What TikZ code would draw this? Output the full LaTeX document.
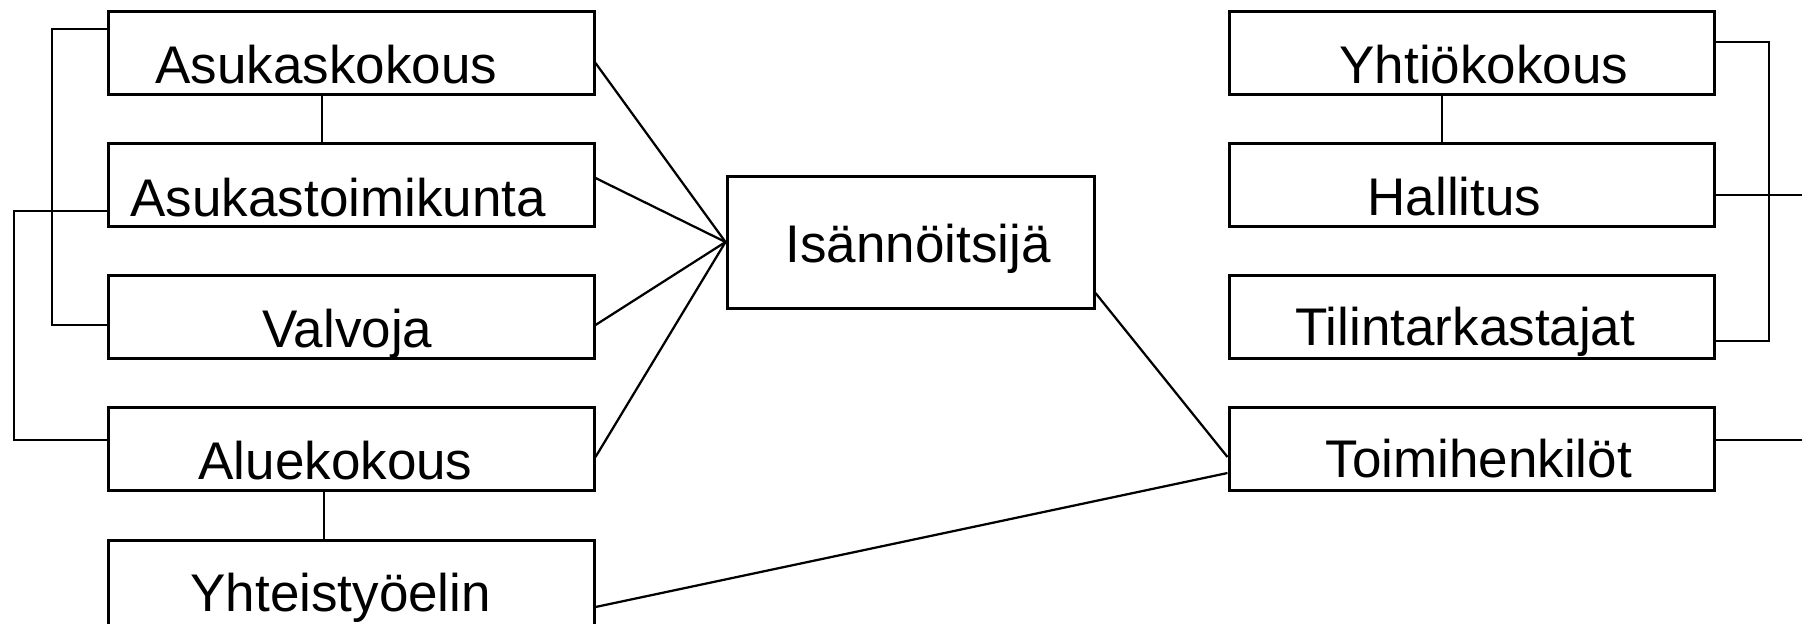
\documentclass[tikz,border=0pt]{standalone}
\usepackage{fontspec}
\setmainfont{Liberation Sans}
\begin{document}
\begin{tikzpicture}[x=0.4pt,y=-0.4pt,
  box/.style={draw,line width=1.2pt,minimum width=194pt,minimum height=33.1pt,inner sep=0pt},
  lbl/.style={anchor=base west,inner sep=0pt,font=\fontsize{21.2}{25}\selectfont},
  conn/.style={line width=0.9pt}]
\useasboundingbox (0,0) rectangle (1802,623);
% left column
\node[box] (ak) at (351.5,53) {};
\node[box] (at) at (351.5,185) {};
\node[box] (va) at (351.5,317) {};
\node[box] (al) at (351.5,449) {};
\node[box,minimum height=36pt] (ye) at (351.5,585) {};
\node[lbl] (tak) at (155,83) {Asukaskokous};
\node[lbl] (tat) at (130,216) {Asukastoimikunta};
\node[lbl] (tva) at (262,347) {Valvoja};
\node[lbl] (tal) at (198,479) {Aluekokous};
\node[lbl] (tye) at (190,611) {Yhteistyöelin};
% centre
\node[box,minimum width=146.8pt,minimum height=52.8pt] (is) at (910.5,242) {};
\node[lbl] (tis) at (785,262) {Isännöitsijä};
% right column
\node[box] (yk) at (1471.5,53) {};
\node[box] (ha) at (1471.5,185) {};
\node[box] (ti) at (1471.5,317) {};
\node[box] (to) at (1471.5,449) {};
\node[lbl] (tyk) at (1339,83) {Yhtiökokous};
\node[lbl] (tha) at (1367,215) {Hallitus};
\node[lbl] (tti) at (1295,345) {Tilintarkastajat};
\node[lbl] (tto) at (1325,477) {Toimihenkilöt};
\coordinate (e1) at (1802,195);
\coordinate (e2) at (1802,440);
% vertical links
\draw[conn] (ak.south -| 322,0) -- (at.north -| 322,0);
\draw[conn] (al.south -| 324,0) -- (ye.north -| 324,0);
\draw[conn] (yk.south -| 1442,0) -- (ha.north -| 1442,0);
% left brackets
\draw[conn] (ak.west |- 0,29) -- (52,29) -- (52,325) -- (va.west |- 0,325);
\draw[conn] (at.west |- 0,211) -- (14,211) -- (14,440) -- (al.west |- 0,440);
% fan into Isännöitsijä
\draw[conn] (ak.east |- 0,63) -- (is.west);
\draw[conn] (at.east |- 0,178) -- (is.west);
\draw[conn] (va.east |- 0,325) -- (is.west);
\draw[conn] (al.east |- 0,457) -- (is.west);
% to Toimihenkilöt
\draw[conn] (is.east |- 0,293) -- (to.west |- 0,457);
\draw[conn] (ye.east |- 0,607) -- (to.west |- 0,473);
% right bracket
\draw[conn] (yk.east |- 0,42) -- (1769,42) -- (1769,341) -- (ti.east |- 0,341);
\draw[conn] (ha.east |- 0,195) -- (e1);
\draw[conn] (to.east |- 0,440) -- (e2);
\end{tikzpicture}
\end{document}
